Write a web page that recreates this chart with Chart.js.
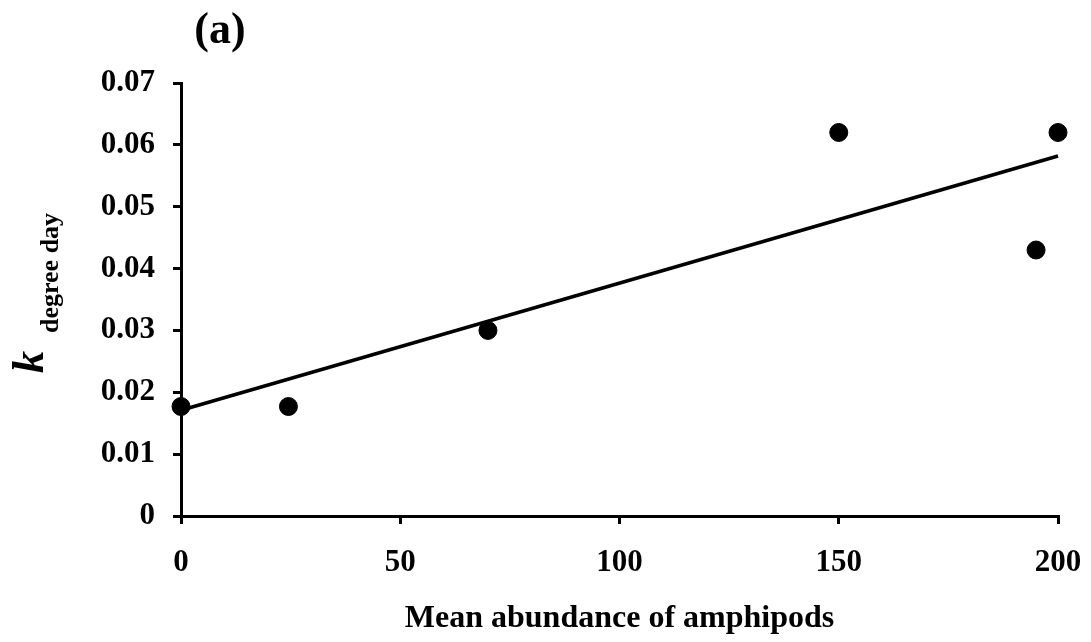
<!DOCTYPE html>
<html>
<head>
<meta charset="utf-8">
<script src="https://cdn.jsdelivr.net/npm/chart.js@4"></script>
<style>
  body { margin: 0; background: #fff; }
  #wrap { width: 1091px; height: 642px; position: relative; }
</style>
</head>
<body>
<div id="wrap"><canvas id="kChart"></canvas></div>
<script>
// points
const amphipods = [0, 24.5, 70, 150, 195, 200];
const kDegreeDay = [0.0177, 0.0177, 0.030, 0.062, 0.043, 0.062];

// fitted line, read at both ends
const fitX = [0, 200];
const fitY = [0.0171, 0.0582];

const panelLabel = '(a)';
const xTitle = 'Mean abundance of amphipods';
const yTitleMain = 'k';
const yTitleSub = 'degree day';

const serif = '"Liberation Serif", "Times New Roman", serif';

const ctx = document.getElementById('kChart').getContext('2d');

// draws the panel label and the k with its subscript
const labelsPlugin = {
    id: 'labels',
    afterDraw(chart) {
        const c = chart.ctx;
        c.save();
        c.fillStyle = '#000';
        c.font = 'bold 44px ' + serif;
        c.textAlign = 'center';
        c.textBaseline = 'alphabetic';
        c.fillText(panelLabel, 220, 43);

        c.translate(43, 373);
        c.rotate(-Math.PI / 2);
        c.textAlign = 'left';
        c.font = 'italic bold 44px ' + serif;
        c.fillText(yTitleMain, 0, 0);
        c.font = 'bold 26px ' + serif;
        c.fillText(yTitleSub, 40, 15);
        c.restore();
    }
};

const data = {
    datasets: [{
        type: 'scatter',
        data: amphipods.map((x, i) => ({ x: x, y: kDegreeDay[i] })),
        backgroundColor: '#000',
        borderColor: '#000',
        pointRadius: 9,
        pointHoverRadius: 9,
        clip: false
    }, {
        type: 'line',
        data: fitX.map((x, i) => ({ x: x, y: fitY[i] })),
        borderColor: '#000',
        borderWidth: 3.5,
        pointRadius: 0,
        fill: false,
        clip: false
    }]
};

const config = {
    type: 'scatter',
    data: data,
    plugins: [labelsPlugin],
    options: {
        responsive: true,
        maintainAspectRatio: false,
        animation: false,
        layout: {
            padding: { top: 83, right: 33, left: 0, bottom: 0 }
        },
        plugins: {
            legend: { display: false },
            tooltip: { enabled: false }
        },
        scales: {
            x: {
                type: 'linear',
                min: 0,
                max: 200,
                afterFit: s => { s.height = 126; },
                border: { display: true, color: '#000', width: 3 },
                grid: { drawOnChartArea: false, drawTicks: true, tickLength: 8, color: '#000', lineWidth: 3 },
                ticks: {
                    stepSize: 50,
                    // small padding keeps the right edge at 200; the tall line box pushes labels down
                    padding: 2,
                    color: '#000',
                    font: { family: serif, size: 31, weight: 'bold', lineHeight: 2.36 }
                },
                title: {
                    display: true,
                    text: xTitle,
                    color: '#000',
                    padding: { top: 0, bottom: 4 },
                    font: { family: serif, size: 32, weight: 'bold' }
                }
            },
            y: {
                min: 0,
                max: 0.07,
                afterFit: s => { s.width = 181; },
                border: { display: true, color: '#000', width: 3 },
                grid: { drawOnChartArea: false, drawTicks: true, tickLength: 8, color: '#000', lineWidth: 3 },
                ticks: {
                    stepSize: 0.01,
                    padding: 18,
                    color: '#000',
                    font: { family: serif, size: 31, weight: 'bold' },
                    callback: v => v === 0 ? '0' : v.toFixed(2)
                }
            }
        }
    }
};

const kChart = new Chart(ctx, config);
</script>
</body>
</html>
